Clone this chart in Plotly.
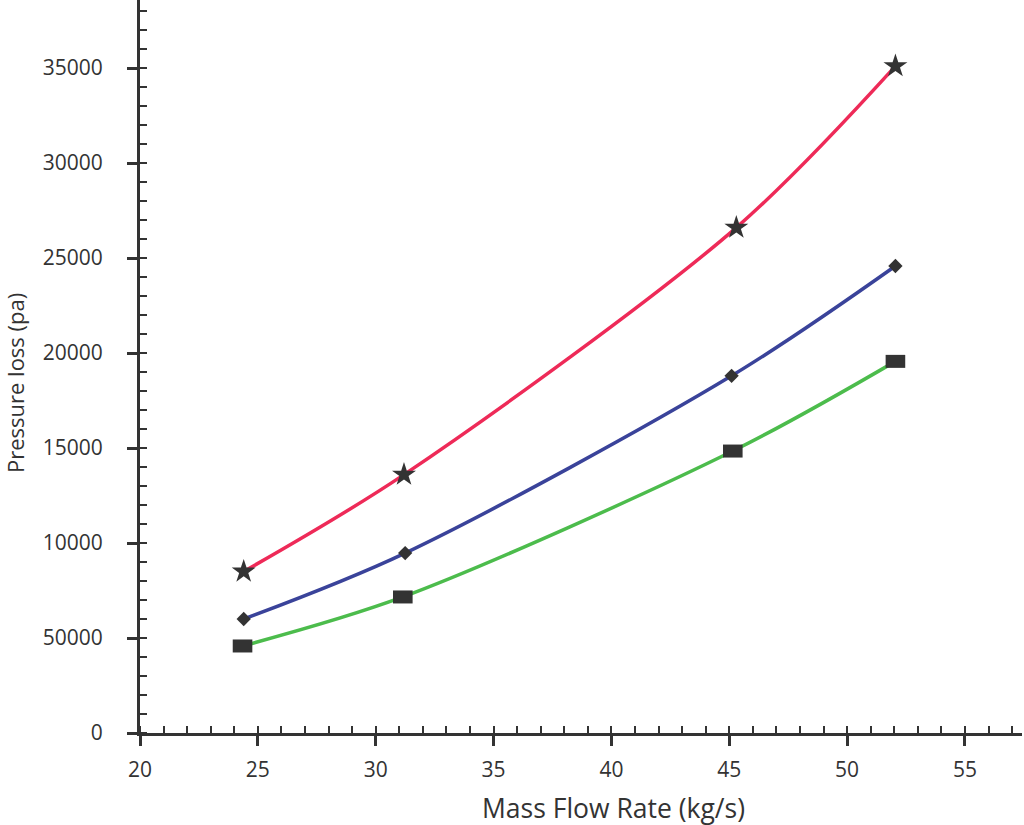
import plotly.graph_objects as go

x_red = [24.4, 31.2, 45.3, 52.05]
y_red = [8500, 13600, 26600, 35100]
x_blue = [24.4, 31.25, 45.1, 52.05]
y_blue = [6000, 9470, 18800, 24580]
x_green = [24.35, 31.15, 45.15, 52.05]
y_green = [4580, 7160, 14840, 19560]

y_tickvals = [0, 5000, 10000, 15000, 20000, 25000, 30000, 35000]
y_ticktext = ["0", "50000", "10000", "15000", "20000", "25000", "30000", "35000"]
x_tickvals = [20, 25, 30, 35, 40, 45, 50, 55]

FONT = "Open Sans"
TXT = "#333333"
MK = "#333333"

fig = go.Figure()
fig.add_trace(go.Scatter(x=x_red, y=y_red, mode="lines+markers",
                         line=dict(color="#ee2a58", width=3.5, shape="spline", smoothing=0.9),
                         marker=dict(symbol="star", size=18, color=MK, line=dict(width=0))))
fig.add_trace(go.Scatter(x=x_blue, y=y_blue, mode="lines+markers",
                         line=dict(color="#3a439a", width=3.5, shape="spline", smoothing=0.9),
                         marker=dict(symbol="diamond", size=11, color=MK, line=dict(width=0))))
fig.add_trace(go.Scatter(x=x_green, y=y_green, mode="lines+markers",
                         line=dict(color="#4cbc4c", width=3.5, shape="spline", smoothing=0.9),
                         marker=dict(symbol="line-ew", size=14, color=MK,
                                     line=dict(width=13, color=MK))))

fig.update_layout(
    width=1024, height=825,
    margin=dict(l=140, r=2, t=0, b=92),
    paper_bgcolor="white", plot_bgcolor="white",
    showlegend=False,
    font=dict(family=FONT, color=TXT, size=21),
    annotations=[
        dict(text="Mass Flow Rate (kg/s)", xref="paper", yref="paper",
             x=0.5374, y=-0.1023, xanchor="center", yanchor="middle",
             showarrow=False, font=dict(size=26.5, color=TXT)),
        dict(text="Pressure loss (pa)", xref="paper", yref="paper",
             x=-0.1417, y=0.4775, xanchor="center", yanchor="middle", textangle=-90,
             showarrow=False, font=dict(size=22, color=TXT)),
    ],
)
fig.update_xaxes(
    range=[20, 57.42], tickvals=x_tickvals,
    showline=True, linecolor="#333333", linewidth=3,
    ticks="outside", ticklen=10, tickwidth=2.5, tickcolor="#333333",
    minor=dict(dtick=1, ticks="inside", ticklen=7, tickwidth=2, tickcolor="#333333"),
    showgrid=False, zeroline=False,
    tickfont=dict(size=21, color=TXT), ticklabelstandoff=6,
)
fig.update_yaxes(
    range=[0, 38580], tickvals=y_tickvals, ticktext=y_ticktext,
    showline=True, linecolor="#333333", linewidth=3,
    ticks="outside", ticklen=10, tickwidth=2.5, tickcolor="#333333",
    minor=dict(dtick=1000, ticks="inside", ticklen=7, tickwidth=2, tickcolor="#333333"),
    showgrid=False, zeroline=False,
    tickfont=dict(size=21, color=TXT), ticklabelstandoff=20,
)

fig.write_html("out.html", config={"displayModeBar": False},
               post_script="document.body.style.margin='0';")
